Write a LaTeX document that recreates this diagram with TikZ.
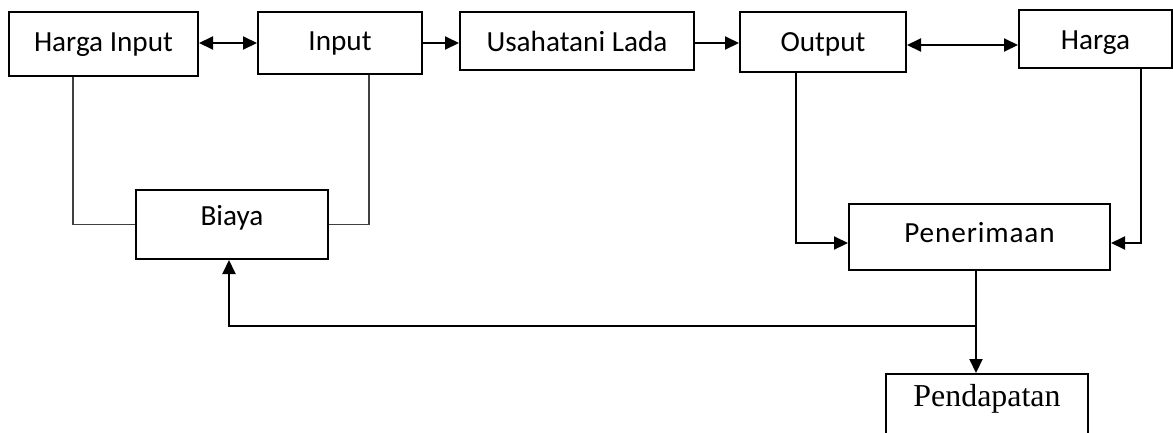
\documentclass[tikz,border=0pt]{standalone}
\usepackage{fontspec}
\setmainfont{Carlito}
\newfontfamily\seriffont{Liberation Serif}
\usetikzlibrary{arrows.meta}
\begin{document}
\begin{tikzpicture}[x=1pt,y=-1pt,
  box/.style={draw, line width=2pt, inner sep=0pt, font=\fontsize{29.2}{35}\selectfont},
  bl/.style={text height=22pt, text depth=#1},
  conn/.style={line width=2pt},
  thinconn/.style={line width=1.3pt, draw=black!75},
  tip/.style={-{Triangle[length=14pt,width=13pt]}},
  bitip/.style={{Triangle[length=14pt,width=13pt]}-{Triangle[length=14pt,width=13pt]}}]
\clip (0,0) rectangle (1173,432);
\node[box, minimum width=189pt, minimum height=64pt, bl=8pt] (hi) at (103.5,44) {Harga Input};
\node[box, minimum width=164pt, minimum height=62pt, bl=8pt] (in) at (340,43) {Input};
\node[box, minimum width=234pt, minimum height=58pt, bl=2pt] (us) at (577,41) {Usahatani Lada};
\node[box, minimum width=166pt, minimum height=60pt, bl=4pt] (ou) at (823,42) {Output};
\node[box, minimum width=153pt, minimum height=58pt, bl=2pt] (ha) at (1095.5,39) {Harga};
\node[box, minimum width=192pt, minimum height=69pt, bl=21pt] (bi) at (232,224.5) {Biaya};
\node[box, minimum width=261pt, minimum height=66pt, bl=12pt] (pe) at (979.5,237) {\addfontfeature{LetterSpace=3}Penerimaan};
\node[box, minimum width=202pt, minimum height=70pt, bl=28pt, font=\seriffont\fontsize{31.9}{38}\selectfont] (pd) at (987,409) {Pendapatan};
\coordinate (r1) at (0,43);
\coordinate (r2) at (0,45);
\coordinate (xhi) at (73,0);
\coordinate (xin) at (369,0);
\coordinate (xou) at (796,0);
\coordinate (xha) at (1141,0);
\coordinate (xd) at (976,0);
\coordinate (xb) at (229,0);
\coordinate (ype) at (0,243);
\coordinate (jn) at (976,326);
\draw[conn,bitip] (hi.east |- r1) -- (in.west |- r1);
\draw[conn,tip] (in.east |- r1) -- (us.west |- r1);
\draw[conn,tip] (us.east |- r1) -- (ou.west |- r1);
\draw[conn,bitip] (ou.east |- r2) -- (ha.west |- r2);
\draw[thinconn] (hi.south -| xhi) |- (bi.west);
\draw[thinconn] (in.south -| xin) |- (bi.east);
\draw[conn,tip] (ou.south -| xou) |- (pe.west |- ype);
\draw[conn,tip] (ha.south -| xha) |- (pe.east |- ype);
\draw[conn,tip] (pe.south -| xd) -- (pd.north -| xd);
\draw[conn,tip] (jn) -| (bi.south -| xb);
\end{tikzpicture}
\end{document}
